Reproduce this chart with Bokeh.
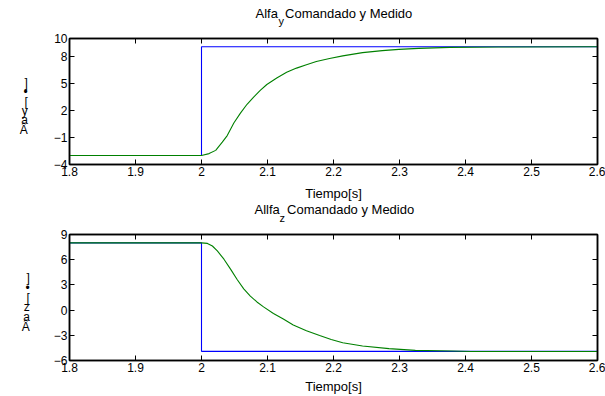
from bokeh.plotting import figure
from bokeh.models import Range1d, FixedTicker, LinearAxis, Title
from bokeh.layouts import column
from bokeh.embed import file_html
from bokeh.resources import INLINE

# ---------------- data ----------------
x_ticks = [1.8, 1.9, 2.0, 2.1, 2.2, 2.3, 2.4, 2.5, 2.6]
x_tick_labels = ["1.8", "1.9", "2", "2.1", "2.2", "2.3", "2.4", "2.5", "2.6"]
x_label = "Tiempo[s]"

# Panel 1: Alfa_y
title1_main = "Alfa\u00a0\u00a0Comandado y Medido"
title1_sub = "y"
ylabel1 = "\n]\n\u2022\n[\n\u2003\u2002y\na\n\u00c2"
y1_ticks = [-4, -1, 2, 5, 8, 10]
t_cmd_y = [1.8, 2.0, 2.0, 2.6]
v_cmd_y = [-3.0, -3.0, 9.09, 9.09]
t_med_y = [1.8, 2.0, 2.0115, 2.0215, 2.0315, 2.039, 2.049, 2.059, 2.069, 2.079,
           2.089, 2.099, 2.114, 2.129, 2.144, 2.159, 2.174, 2.194, 2.214, 2.244,
           2.274, 2.299, 2.329, 2.376, 2.45, 2.6]
v_med_y = [-3.0, -3.0, -2.79, -2.43, -1.52, -0.79, 0.61, 1.71, 2.69, 3.49,
           4.23, 4.89, 5.61, 6.24, 6.71, 7.08, 7.44, 7.78, 8.07, 8.43,
           8.65, 8.79, 8.90, 9.01, 9.05, 9.08]

# Panel 2: Alfa_z
title2_main = "Allfa\u00a0\u00a0Comandado y Medido"
title2_sub = "z"
ylabel2 = "\n]\n\u2022\n[\n\u2003\u2002z\na\n\u00c2"
y2_ticks = [-6, -3, 0, 3, 6, 9]
t_cmd_z = [1.8, 2.0, 2.0, 2.6]
v_cmd_z = [8.0, 8.0, -4.91, -4.91]
t_med_z = [1.8, 2.0, 2.009, 2.0165, 2.024, 2.034, 2.044, 2.054, 2.064, 2.074,
           2.084, 2.094, 2.109, 2.124, 2.139, 2.159, 2.179, 2.1965, 2.214, 2.244,
           2.284, 2.324, 2.379, 2.409, 2.6]
v_med_z = [8.0, 8.0, 7.94, 7.63, 7.04, 6.06, 4.88, 3.64, 2.53, 1.67,
           0.97, 0.38, -0.41, -1.06, -1.77, -2.47, -3.03, -3.50, -3.88, -4.28,
           -4.59, -4.79, -4.87, -4.92, -4.93]

FONT = "Liberation Sans"
CMD_COLOR = "#0000ff"
MED_COLOR = "#008000"


def make_panel(height, top_border, bottom_border, yr, yticks, tc, vc, tm, vm,
               tmain, tsub, main_off, sub_off, ylab, ylab_lh, ylab_standoff,
               top_gap, main_standoff, xlab_standoff):
    p = figure(width=605, height=height, output_backend="svg", toolbar_location=None,
               title=None,
               x_range=Range1d(1.8, 2.6), y_range=Range1d(*yr),
               min_border_left=64, min_border_right=8,
               min_border_top=top_border, min_border_bottom=bottom_border,
               background_fill_color="white", border_fill_color="white",
               outline_line_color="black", outline_line_width=1.5)
    p.grid.visible = False
    p.xaxis.ticker = FixedTicker(ticks=x_ticks)
    p.xaxis.major_label_overrides = {t: s for t, s in zip(x_ticks, x_tick_labels)}
    p.yaxis.ticker = FixedTicker(ticks=yticks)
    for ax in (p.xaxis[0], p.yaxis[0]):
        ax.major_tick_in = 5
        ax.major_tick_out = 0
        ax.minor_tick_in = 0
        ax.minor_tick_out = 0
        ax.axis_line_width = 1.5
        ax.axis_line_color = "black"
        ax.major_tick_line_color = "black"
        ax.major_label_text_font = FONT
        ax.major_label_text_font_size = "12px"
        ax.major_label_text_color = "black"
        ax.axis_label_text_font = FONT
        ax.axis_label_text_font_style = "normal"
        ax.axis_label_text_color = "black"
    p.xaxis.major_label_standoff = 2
    p.yaxis.major_label_standoff = 2
    p.xaxis.axis_label = x_label
    p.xaxis.axis_label_text_font_size = "13px"
    p.xaxis.axis_label_standoff = xlab_standoff
    p.yaxis.axis_label = ylab
    p.yaxis.axis_label_orientation = "horizontal"
    p.yaxis.axis_label_text_font_size = "12px"
    p.yaxis.axis_label_text_line_height = ylab_lh
    p.yaxis.axis_label_standoff = ylab_standoff

    # mirrored ticks on top / right (no tick labels); the top axis also
    # reserves a small gap between the frame and the title lines
    top = LinearAxis(ticker=FixedTicker(ticks=x_ticks), major_tick_in=5, major_tick_out=0,
                     minor_tick_in=0, minor_tick_out=0,
                     major_label_overrides={t: "" for t in x_ticks},
                     major_label_standoff=0, axis_line_width=1.5,
                     axis_label="\u00a0", axis_label_text_font_size="2px",
                     axis_label_standoff=top_gap)
    right = LinearAxis(ticker=FixedTicker(ticks=yticks), major_tick_in=5, major_tick_out=0,
                       minor_tick_in=0, minor_tick_out=0,
                       major_label_overrides={t: "" for t in yticks},
                       major_label_standoff=0, axis_line_width=1.5)
    p.add_layout(top, "above")
    p.add_layout(right, "right")

    # subscript first (nearer the frame), then main title line above it
    p.add_layout(Title(text=tsub, align="left", offset=sub_off, text_font=FONT,
                       text_font_size="11px", text_font_style="normal",
                       text_color="black", standoff=0), "above")
    p.add_layout(Title(text=tmain, align="left", offset=main_off, text_font=FONT,
                       text_font_size="13px", text_font_style="normal",
                       text_color="black", standoff=main_standoff), "above")

    p.line(tc, vc, line_color=CMD_COLOR, line_width=1.1)
    p.line(tm, vm, line_color=MED_COLOR, line_width=1.1)
    return p


# top figure: page-y 0..203, frame 38..165
p1 = make_panel(203, 38, 38, (-4, 10), y1_ticks, t_cmd_y, v_cmd_y, t_med_y, v_med_y,
                title1_main, title1_sub, 186, 209, ylabel1, 0.67, 23, 7, -17, 7)
# bottom figure: page-y 203..396, frame 234..361.5
p2 = make_panel(193, 31, 34, (-6, 9), y2_ticks, t_cmd_z, v_cmd_z, t_med_z, v_med_z,
                title2_main, title2_sub, 185, 210, ylabel2, 0.71, 21, 6, -15, 4)

layout = column(p1, p2, spacing=0)
open("out.html", "w").write(file_html(layout, INLINE))
